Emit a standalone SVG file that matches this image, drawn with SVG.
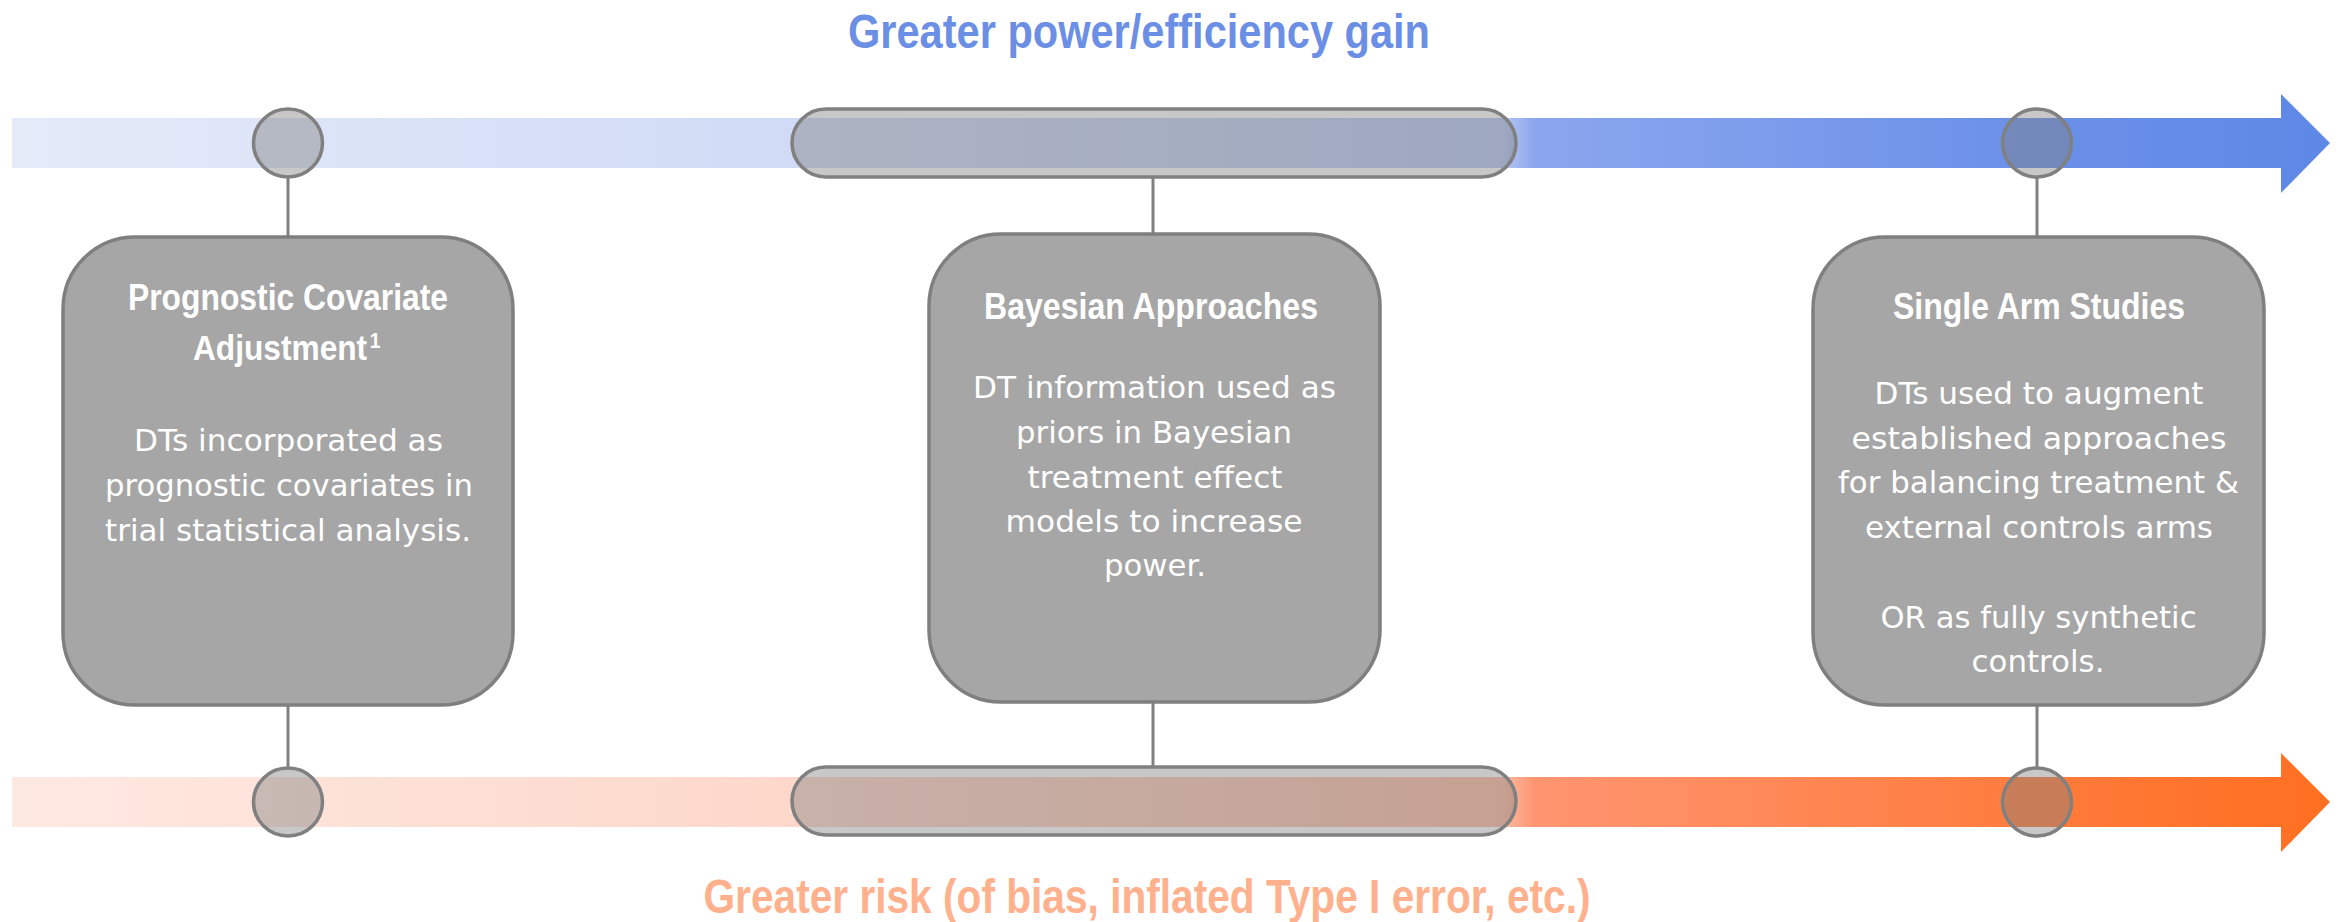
<svg xmlns="http://www.w3.org/2000/svg" width="2341" height="922" viewBox="0 0 2341 922">
<style>
.band-label{font-family:"Liberation Sans",Arial,sans-serif;font-weight:bold;font-size:49px;text-anchor:middle}
.box{fill:#a6a6a6;stroke:#7f7f7f;stroke-width:3.5}
.title{font-family:"Liberation Sans",Arial,sans-serif;font-weight:bold;font-size:36px;fill:#ffffff;text-anchor:middle}
.body{font-family:"DejaVu Sans","Liberation Sans",sans-serif;font-size:30px;fill:#ffffff;text-anchor:middle}
.marker{fill:#808080;fill-opacity:0.43;stroke:#808080;stroke-width:3.5}
.conn{stroke:#808080;stroke-width:3;fill:none}
</style>
<defs>
<linearGradient id="gBlue" gradientUnits="userSpaceOnUse" x1="12" y1="0" x2="2330" y2="0">
<stop offset="0" stop-color="#e4eaf8"/>
<stop offset="0.33" stop-color="#d1dbf6"/>
<stop offset="0.643" stop-color="#b7c7f1"/>
<stop offset="0.657" stop-color="#8ba6ee"/>
<stop offset="0.88" stop-color="#6a8fe8"/>
<stop offset="1" stop-color="#5e88e6"/>
</linearGradient>
<linearGradient id="gOrange" gradientUnits="userSpaceOnUse" x1="12" y1="0" x2="2330" y2="0">
<stop offset="0" stop-color="#fee9e1"/>
<stop offset="0.33" stop-color="#fdd8cb"/>
<stop offset="0.643" stop-color="#fbbba3"/>
<stop offset="0.657" stop-color="#ff9571"/>
<stop offset="0.88" stop-color="#ff7a3a"/>
<stop offset="1" stop-color="#ff6f20"/>
</linearGradient>
</defs>

<g id="axis-power">
<path d="M12,118 H2281 V94 L2330,143 L2281,193 V168 H12 Z" fill="url(#gBlue)"/>
<text class="band-label" x="1139" y="48" fill="#6b8fe5" textLength="582" lengthAdjust="spacingAndGlyphs">Greater power/efficiency gain</text>
</g>

<g id="axis-risk">
<path d="M12,777 H2281 V753 L2330,802 L2281,852 V827 H12 Z" fill="url(#gOrange)"/>
<text class="band-label" x="1147" y="913" fill="#ffb08c" textLength="887" lengthAdjust="spacingAndGlyphs">Greater risk (of bias, inflated Type I error, etc.)</text>
</g>

<g id="connectors">
<line class="conn" x1="288" y1="178" x2="288" y2="237"/>
<line class="conn" x1="288" y1="705" x2="288" y2="768"/>
<line class="conn" x1="1153" y1="177" x2="1153" y2="234"/>
<line class="conn" x1="1153" y1="702" x2="1153" y2="767"/>
<line class="conn" x1="2037" y1="177" x2="2037" y2="237"/>
<line class="conn" x1="2037" y1="705" x2="2037" y2="768"/>
</g>

<g id="markers-power">
<ellipse class="marker" cx="288" cy="143" rx="34.5" ry="34"/>
<rect class="marker" x="792" y="109" width="724" height="68" rx="34" ry="34"/>
<ellipse class="marker" cx="2037" cy="143" rx="34.5" ry="34"/>
</g>

<g id="markers-risk">
<ellipse class="marker" cx="288" cy="802" rx="34.5" ry="34"/>
<rect class="marker" x="792" y="767" width="724" height="68" rx="34" ry="34"/>
<ellipse class="marker" cx="2037" cy="802" rx="34.5" ry="34"/>
</g>

<g id="node-prognostic">
<rect class="box" x="63" y="237" width="450" height="468" rx="72" ry="72"/>
<text class="title" x="288" y="310" textLength="320" lengthAdjust="spacingAndGlyphs">Prognostic Covariate</text>
<text class="title" style="text-anchor:start" transform="translate(193,360) scale(0.88,1)">Adjustment<tspan x="201" y="-12" font-size="22">1</tspan></text>
<text class="body" x="288.5" y="451" textLength="309" lengthAdjust="spacingAndGlyphs">DTs incorporated as</text>
<text class="body" x="289" y="496" textLength="368" lengthAdjust="spacingAndGlyphs">prognostic covariates in</text>
<text class="body" x="288" y="541" textLength="366" lengthAdjust="spacingAndGlyphs">trial statistical analysis.</text>
</g>

<g id="node-bayesian">
<rect class="box" x="929" y="234" width="451" height="468" rx="72" ry="72"/>
<text class="title" x="1151" y="319" textLength="334" lengthAdjust="spacingAndGlyphs">Bayesian Approaches</text>
<text class="body" x="1154.5" y="398" textLength="363" lengthAdjust="spacingAndGlyphs">DT information used as</text>
<text class="body" x="1154" y="443" textLength="276" lengthAdjust="spacingAndGlyphs">priors in Bayesian</text>
<text class="body" x="1155" y="487.5" textLength="255" lengthAdjust="spacingAndGlyphs">treatment effect</text>
<text class="body" x="1154" y="532" textLength="297" lengthAdjust="spacingAndGlyphs">models to increase</text>
<text class="body" x="1155" y="576" textLength="102" lengthAdjust="spacingAndGlyphs">power.</text>
</g>

<g id="node-single-arm">
<rect class="box" x="1813" y="237" width="451" height="468" rx="72" ry="72"/>
<text class="title" x="2039" y="319" textLength="292" lengthAdjust="spacingAndGlyphs">Single Arm Studies</text>
<text class="body" x="2039" y="404" textLength="329" lengthAdjust="spacingAndGlyphs">DTs used to augment</text>
<text class="body" x="2039" y="449" textLength="375" lengthAdjust="spacingAndGlyphs">established approaches</text>
<text class="body" x="2038.5" y="493" textLength="401" lengthAdjust="spacingAndGlyphs">for balancing treatment &amp;</text>
<text class="body" x="2039" y="538" textLength="348" lengthAdjust="spacingAndGlyphs">external controls arms</text>
<text class="body" x="2038.5" y="628" textLength="316" lengthAdjust="spacingAndGlyphs">OR as fully synthetic</text>
<text class="body" x="2038" y="672" textLength="133" lengthAdjust="spacingAndGlyphs">controls.</text>
</g>
</svg>
